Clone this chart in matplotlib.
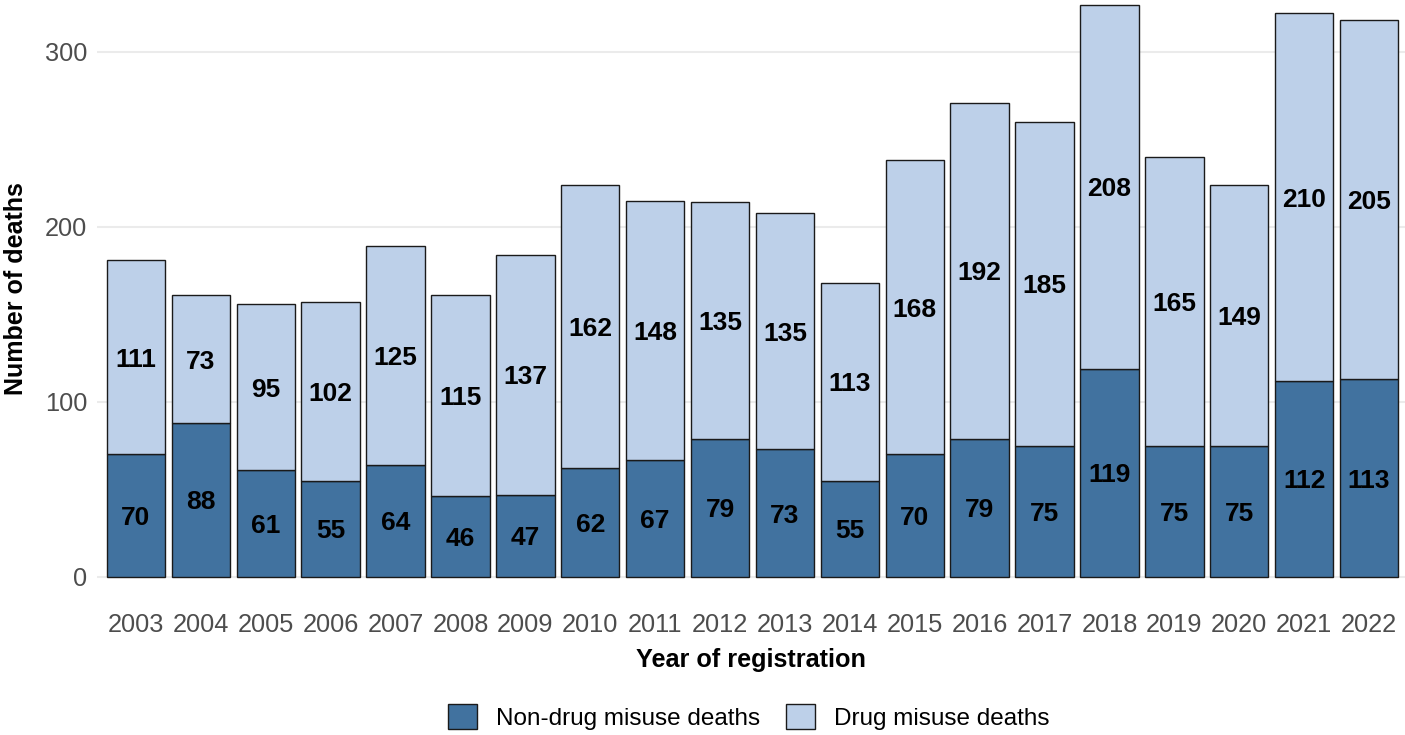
import matplotlib
matplotlib.use("Agg")
import matplotlib.pyplot as plt
from matplotlib.patches import Patch
import numpy as np

plt.rcParams['font.family'] = ['Liberation Sans', 'DejaVu Sans']

years = ["2003", "2004", "2005", "2006", "2007", "2008", "2009", "2010", "2011", "2012",
         "2013", "2014", "2015", "2016", "2017", "2018", "2019", "2020", "2021", "2022"]
non_drug = [70, 88, 61, 55, 64, 46, 47, 62, 67, 79, 73, 55, 70, 79, 75, 119, 75, 75, 112, 113]
drug = [111, 73, 95, 102, 125, 115, 137, 162, 148, 135, 135, 113, 168, 192, 185, 208, 165, 149, 210, 205]
series_names = ["Non-drug misuse deaths", "Drug misuse deaths"]
yticks = [0, 100, 200, 300]

dark = "#41729f"
light = "#bdd0e9"
edge = "#1a1a1a"

W, H = 1405, 735
fig = plt.figure(figsize=(W / 100, H / 100), dpi=100)
ax = fig.add_axes([97 / W, 129.4 / H, 1311 / W, 629.5 / H])

x = np.arange(len(years))
nd = np.array(non_drug)
dr = np.array(drug)

ax.bar(x, nd, width=0.9, color=dark, edgecolor=edge, linewidth=1.0, zorder=3)
ax.bar(x, dr, bottom=nd, width=0.9, color=light, edgecolor=edge, linewidth=1.0, zorder=3)

for xi, a, b in zip(x, nd, dr):
    ax.text(xi, a / 2, str(a), ha='center', va='center_baseline', fontsize=19, fontweight='bold',
            color='black', zorder=4)
    ax.text(xi, a + b / 2, str(b), ha='center', va='center_baseline', fontsize=19, fontweight='bold',
            color='black', zorder=4)

ax.set_xlim(-0.6, len(years) - 0.4)
ax.set_ylim(-16.35, 343.35)
ax.set_xticks(x)
ax.set_xticklabels(years)
ax.set_yticks(yticks)
ax.tick_params(axis='both', length=0, labelsize=18.3, labelcolor='#4d4d4d')
ax.tick_params(axis='x', pad=5)
ax.tick_params(axis='y', pad=7)
ax.grid(axis='y', color='#ebebeb', linewidth=1.5, zorder=0)
ax.grid(axis='x', visible=False)
for s in ax.spines.values():
    s.set_visible(False)

ax.set_xlabel("Year of registration", fontsize=18.2, fontweight='bold', color='black', va='center')
ax.set_ylabel("Number of deaths", fontsize=18, fontweight='bold', color='black', va='center')
ax.yaxis.set_label_coords((16 - 97) / 1311, (605.6 - 289) / 629.5)
ax.xaxis.set_label_coords((751 - 97) / 1311, -(660 - 605.6) / 629.5)

handles = [Patch(facecolor=dark, edgecolor=edge, linewidth=1.0, label=series_names[0]),
           Patch(facecolor=light, edgecolor=edge, linewidth=1.0, label=series_names[1])]
fig.legend(handles=handles, loc='center', bbox_to_anchor=(748.5 / W, 1 - 717 / H), ncol=2,
           frameon=False, fontsize=17.5, handlelength=1.2, handleheight=1.2,
           handletextpad=0.78, columnspacing=1.07, borderpad=0.1)

fig.savefig("out.png", dpi=100)
